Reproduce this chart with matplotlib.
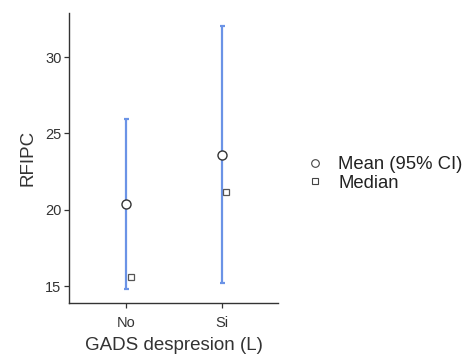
import matplotlib.pyplot as plt
from matplotlib.lines import Line2D

plt.rcParams['font.family'] = ['Liberation Sans', 'DejaVu Sans']

# data
groups = ['No', 'Si']
mean_vals = [20.39, 23.57]
ci_low = [14.78, 15.2]
ci_high = [25.97, 32.0]
median_vals = [15.57, 21.17]

xpos = [1, 2]
err_low = [m - lo for m, lo in zip(mean_vals, ci_low)]
err_high = [hi - m for m, hi in zip(mean_vals, ci_high)]

fig = plt.figure(figsize=(4.68, 3.58), dpi=100)
ax = fig.add_axes([0.1474, 0.1536, 0.4466, 0.81])

ax.errorbar(xpos, mean_vals, yerr=[err_low, err_high], fmt='none',
            ecolor='#6b93e6', elinewidth=1.6, capsize=1.8, capthick=1.6, zorder=2)
ax.plot(xpos, mean_vals, 'o', ms=6.5, mfc='white', mec='#333333', mew=1.0, zorder=3)
ax.plot([x + 0.05 for x in xpos], median_vals, 's', ms=5, mfc='white',
        mec='#555555', mew=0.9, zorder=3)

ax.set_xlim(0.404, 2.59)
ax.set_ylim(13.89, 32.88)
ax.set_xticks(xpos)
ax.set_xticklabels(groups)
ax.set_yticks([15, 20, 25, 30])

for s in ['top', 'right']:
    ax.spines[s].set_visible(False)
for s in ['left', 'bottom']:
    ax.spines[s].set_color('#333333')
    ax.spines[s].set_linewidth(1.0)
ax.tick_params(colors='#333333', labelsize=10.5, length=3.5, width=0.9)
ax.tick_params(axis='y', pad=2)
ax.tick_params(axis='x', pad=6)

ax.set_xlabel('GADS despresion (L)', fontsize=13.5, color='#333333', labelpad=5)
ax.set_ylabel('RFIPC', fontsize=13.5, color='#333333', labelpad=6)

handles = [
    Line2D([], [], ls='none', marker='o', ms=5.5, mfc='white', mec='#444444', mew=0.8),
    Line2D([], [], ls='none', marker='s', ms=4.5, mfc='white', mec='#444444', mew=0.8),
]
fig.legend(handles, ['Mean (95% CI)', 'Median'], loc='center left',
           bbox_to_anchor=(0.639, 0.514), frameon=False, fontsize=13.3,
           handlelength=0.7, handletextpad=0.93, labelspacing=0.1, borderpad=0,
           labelcolor='#222222')

fig.savefig('out.png', dpi=100)
